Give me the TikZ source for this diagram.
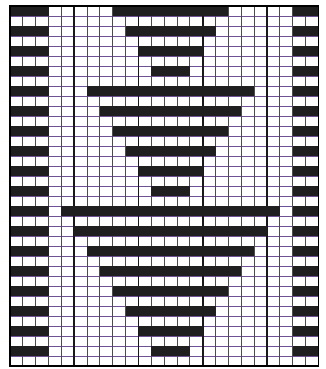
\documentclass[tikz,border=0pt]{standalone}
\begin{document}
\begin{tikzpicture}[x=1pt,y=-1pt]
\def\cw{12.85}
\def\ch{10}
\tikzset{
  cellfill/.style={fill=black!88},
  hline/.style={draw={rgb,255:red,110;green,80;blue,150}, line width=0.7pt},
  vline/.style={draw=black!70, line width=1pt},
  vthick/.style={draw=black!90, line width=1.8pt},
  frame/.style={draw=black, line width=1.6pt}
}
\useasboundingbox[fill=white] (0,0) rectangle (325,369);
% horizontal grid lines
\foreach \j in {1,...,35}{
  \draw[hline] (10,{6+\j*\ch}) -- ({10+24*\cw},{6+\j*\ch});
}
% vertical grid lines
\foreach \i in {1,...,23}{
  \draw[vline] ({10+\i*\cw},6) -- ({10+\i*\cw},{6+36*\ch});
}
\foreach \i in {5,10,15,20}{
  \draw[vthick] ({10+\i*\cw},6) -- ({10+\i*\cw},{6+36*\ch});
}
% side blocks on even rows
\foreach \r in {0,2,...,34}{
  \fill[cellfill] (10,{6+\r*\ch}) rectangle ({10+3*\cw},{6+(\r+1)*\ch});
  \fill[cellfill] ({10+22*\cw},{6+\r*\ch}) rectangle ({10+24*\cw},{6+(\r+1)*\ch});
}
% central bars
\foreach \r/\a/\b in {0/8/16,2/9/15,4/10/14,6/11/13,
  8/6/18,10/7/17,12/8/16,14/9/15,16/10/14,18/11/13,
  20/4/20,22/5/19,24/6/18,26/7/17,28/8/16,30/9/15,32/10/14,34/11/13}{
  \fill[cellfill] ({10+\a*\cw},{6+\r*\ch}) rectangle ({10+(\b+1)*\cw},{6+(\r+1)*\ch});
}
% frame
\draw[frame] (10,6) rectangle ({10+24*\cw},{6+36*\ch});
\end{tikzpicture}
\end{document}
